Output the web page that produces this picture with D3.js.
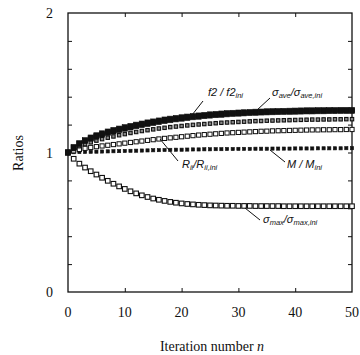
<!DOCTYPE html>
<html><head><meta charset="utf-8">
<script src="https://cdn.jsdelivr.net/npm/d3@7"></script>
<style>body{margin:0;background:#fff}svg{display:block}</style>
</head><body>
<svg id="c" width="360" height="355"></svg>
<script>
const iterations = d3.range(0, 51);
const f2Ratio = [1.000,1.035,1.062,1.082,1.100,1.115,1.128,1.140,1.151,1.161,1.171,1.180,1.189,1.197,1.205,1.212,1.219,1.226,1.232,1.238,1.243,1.248,1.253,1.257,1.261,1.265,1.268,1.271,1.274,1.277,1.279,1.281,1.283,1.285,1.287,1.288,1.289,1.290,1.291,1.292,1.293,1.294,1.295,1.295,1.296,1.296,1.297,1.297,1.298,1.298,1.298];
const sigmaAveRatio = [1.000,1.038,1.066,1.088,1.107,1.123,1.137,1.150,1.161,1.171,1.181,1.190,1.199,1.207,1.215,1.222,1.229,1.236,1.242,1.247,1.252,1.257,1.261,1.265,1.269,1.273,1.276,1.279,1.282,1.284,1.286,1.288,1.290,1.292,1.293,1.295,1.296,1.297,1.298,1.299,1.300,1.301,1.302,1.302,1.303,1.303,1.304,1.304,1.305,1.305,1.305];
const otherRatio = [1.000,1.025,1.045,1.060,1.073,1.085,1.096,1.106,1.115,1.124,1.132,1.140,1.147,1.154,1.160,1.166,1.172,1.177,1.182,1.186,1.190,1.194,1.198,1.201,1.204,1.207,1.210,1.213,1.215,1.217,1.219,1.221,1.223,1.225,1.226,1.228,1.229,1.230,1.231,1.232,1.233,1.234,1.235,1.236,1.236,1.237,1.237,1.238,1.238,1.239,1.239];
const riiRatio = [1.000,1.012,1.022,1.030,1.036,1.042,1.047,1.052,1.057,1.062,1.067,1.072,1.077,1.082,1.087,1.092,1.097,1.101,1.105,1.109,1.113,1.117,1.121,1.125,1.128,1.131,1.134,1.137,1.140,1.142,1.144,1.146,1.148,1.150,1.152,1.153,1.155,1.156,1.157,1.158,1.159,1.160,1.161,1.162,1.162,1.163,1.163,1.164,1.164,1.165,1.165];
const mRatio = [1.000,1.002,1.003,1.004,1.005,1.006,1.007,1.008,1.009,1.010,1.011,1.012,1.013,1.014,1.015,1.016,1.017,1.018,1.019,1.020,1.020,1.021,1.022,1.022,1.023,1.023,1.024,1.024,1.025,1.025,1.026,1.026,1.026,1.027,1.027,1.027,1.028,1.028,1.028,1.028,1.029,1.029,1.029,1.029,1.030,1.030,1.030,1.030,1.030,1.031,1.031];
const sigmaMaxRatio = [1.000,0.955,0.920,0.892,0.866,0.842,0.819,0.797,0.776,0.757,0.739,0.722,0.707,0.693,0.681,0.670,0.661,0.653,0.646,0.640,0.635,0.631,0.628,0.625,0.623,0.621,0.620,0.619,0.618,0.618,0.617,0.617,0.617,0.616,0.616,0.616,0.616,0.616,0.615,0.615,0.615,0.615,0.615,0.615,0.615,0.615,0.615,0.615,0.615,0.615,0.615];
const xTicks = [0,10,20,30,40,50];
const yTicks = [0,1,2];
const yMinorTicks = [0.2,0.4,0.6,0.8,1.2,1.4,1.6,1.8];

const svg = d3.select("#c");
const x = d3.scaleLinear().domain([0,50]).range([68,352]);
const y = d3.scaleLinear().domain([0,2]).range([292,13]);
const ink = "#111";

svg.append("rect").attr("x",x(0)).attr("y",y(2)).attr("width",x(50)-x(0)).attr("height",y(0)-y(2))
  .attr("fill","none").attr("stroke",ink).attr("stroke-width",1.3);

const tl = 4;
const inner = [10,20,30,40];
svg.append("g").attr("transform",`translate(0,${y(0)})`)
  .call(d3.axisBottom(x).tickValues(inner).tickSize(-tl).tickFormat(""))
  .call(g=>{g.select(".domain").remove();g.selectAll("line").attr("stroke",ink);});
svg.append("g").attr("transform",`translate(0,${y(2)})`)
  .call(d3.axisTop(x).tickValues(inner).tickSize(-tl).tickFormat(""))
  .call(g=>{g.select(".domain").remove();g.selectAll("line").attr("stroke",ink);});
const yAll = yMinorTicks.concat([1]);
svg.append("g").attr("transform",`translate(${x(0)},0)`)
  .call(d3.axisLeft(y).tickValues(yAll).tickSize(-tl).tickFormat(""))
  .call(g=>{g.select(".domain").remove();g.selectAll("line").attr("stroke",ink);});
svg.append("g").attr("transform",`translate(${x(50)},0)`)
  .call(d3.axisRight(y).tickValues(yAll).tickSize(-tl).tickFormat(""))
  .call(g=>{g.select(".domain").remove();g.selectAll("line").attr("stroke",ink);});

const serif = "'Liberation Serif','DejaVu Serif',serif";
svg.append("g").selectAll("text").data(xTicks).join("text")
  .attr("x",d=>x(d)).attr("y",317).attr("text-anchor","middle")
  .attr("font-family",serif).attr("font-size",14).attr("fill",ink).text(d=>d);
svg.append("g").selectAll("text").data(yTicks).join("text")
  .attr("x",53).attr("y",d=>y(d)+5).attr("text-anchor","end")
  .attr("font-family",serif).attr("font-size",14).attr("fill",ink).text(d=>d);

const xt = svg.append("text").attr("x",212).attr("y",351).attr("text-anchor","middle")
  .attr("font-family",serif).attr("font-size",14).attr("fill",ink);
xt.append("tspan").text("Iteration number ");
xt.append("tspan").attr("font-style","italic").text("n");
svg.append("text").attr("transform","translate(23,153) rotate(-90)").attr("text-anchor","middle")
  .attr("font-family",serif).attr("font-size",14).attr("fill",ink).text("Ratios");

const series = [
  {name:"sigmaMax", values:sigmaMaxRatio, size:4.6, fill:"#fff", stroke:ink, sw:1.1},
  {name:"m", values:mRatio, size:3.2, fill:ink, stroke:ink, sw:0.6},
  {name:"rii", values:riiRatio, size:4.2, fill:"#fff", stroke:ink, sw:1.0},
  {name:"other", values:otherRatio, size:3.4, fill:"#888", stroke:ink, sw:1.1},
  {name:"f2", values:f2Ratio, size:5.2, fill:ink, stroke:ink, sw:0.6},
  {name:"sigmaAve", values:sigmaAveRatio, size:5.2, fill:ink, stroke:ink, sw:0.6}
];
series.forEach(s=>{
  svg.append("g").selectAll("rect").data(iterations).join("rect")
    .attr("x",d=>x(d)-s.size/2).attr("y",d=>y(s.values[d])-s.size/2)
    .attr("width",s.size).attr("height",s.size)
    .attr("fill",s.fill).attr("stroke",s.stroke).attr("stroke-width",s.sw);
});

const sans = "'Liberation Sans','DejaVu Sans',sans-serif";
function label(xp, yp, parts){
  const t = svg.append("text").attr("x",xp).attr("y",yp).attr("font-family",sans)
    .attr("font-style","italic").attr("font-size",11).attr("fill",ink);
  parts.forEach(p=>{
    const ts = t.append("tspan").text(p[0]);
    if(p[1]) ts.attr("font-size",7.5).attr("baseline-shift","-20%");
  });
}
function pointer(x1,y1,x2,y2){
  svg.append("line").attr("x1",x1).attr("y1",y1).attr("x2",x2).attr("y2",y2)
    .attr("stroke",ink).attr("stroke-width",1);
}
label(208,96,[["f2 / f2"],["ini",1]]);
pointer(203,101,192,115);
label(272,96,[["σ"],["ave",1],["/σ"],["ave,ini",1]]);
pointer(270,98,257,110);
label(182,168,[["R"],["ii",1],["/R"],["ii,ini",1]]);
pointer(160,139,178,161);
label(287,168,[["M / M"],["ini",1]]);
pointer(270,150,285,162);
label(263,223,[["σ"],["max",1],["/σ"],["max,ini",1]]);
pointer(245,208,260,220);
</script>
</body></html>
